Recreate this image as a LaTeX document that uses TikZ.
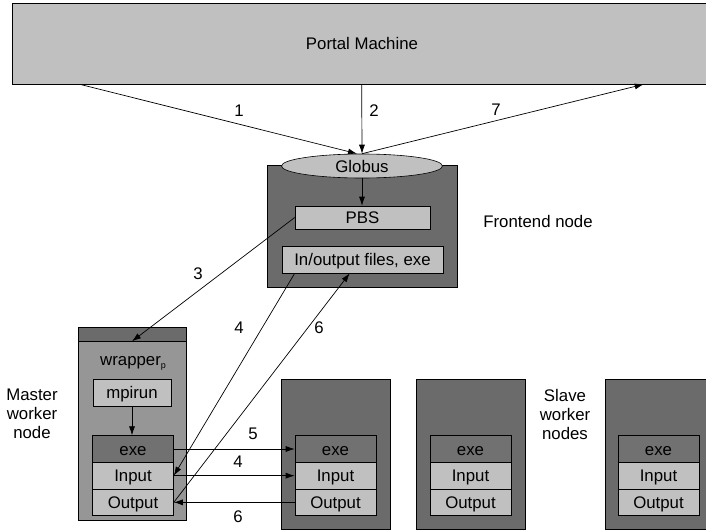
\documentclass[tikz,border=0pt]{standalone}
\usepackage{fontspec}
\setmainfont{Liberation Sans}
\usetikzlibrary{arrows.meta,shapes.geometric}
\definecolor{portalfill}{HTML}{C0C0C0}
\definecolor{hostfill}{HTML}{6B6B6B}
\definecolor{masterfill}{HTML}{969696}
\definecolor{exefill}{HTML}{717171}
\definecolor{filefill}{HTML}{C0C0C0}
\begin{document}
\begin{tikzpicture}[x=1pt,y=-1pt,
  every node/.style={font=\fontsize{16.8}{19}\selectfont, inner sep=0pt},
  lbl/.style={text height=12pt, text depth=0pt},
  box/.style={draw=black, line width=0.6pt, lbl},
  host/.style={box, fill=hostfill, minimum width=109, minimum height=150},
  exebox/.style={box, fill=exefill, minimum width=81, minimum height=26.67},
  filebox/.style={box, fill=filefill, minimum width=81, minimum height=26.67},
  arr/.style={-{Latex[length=9pt,width=6pt]}, line width=0.7pt}]
\useasboundingbox (0,0) rectangle (706,532);

% portal machine
\node[box, fill=portalfill, minimum width=700, minimum height=81] (portal) at (362,43.5) {Portal Machine};

% frontend node
\node[box, fill=hostfill, minimum width=190, minimum height=122] (fe) at (362,226) {};
\node[box, ellipse, fill=portalfill, minimum width=161, minimum height=24] (glob) at (362,166) {Globus};
\node[box, fill=filefill, minimum width=135, minimum height=23] (pbs) at (362.5,217.5) {PBS};
\node[box, fill=filefill, minimum width=161, minimum height=27] (io) at (362.5,259.5) {In/output files, exe};
\node[lbl] (fetext) at (538,221) {Frontend node};

% master worker node
\node[box, fill=masterfill, minimum width=108, minimum height=193] (master) at (132,423.5) {};
\node[box, fill=hostfill, minimum width=108, minimum height=14] (mband) at (132,334) {};
\node[lbl, anchor=base west] (wrap) at (100,365) {wrapper\raisebox{-3pt}{\fontsize{9}{9}\selectfont p}};
\node[box, fill=filefill, minimum width=78, minimum height=27] (mpi) at (132,392.5) {mpirun};
\node[exebox] (mexe) at (133,449) {exe};
\node[filebox] (min) at (133,475.67) {Input};
\node[filebox] (mout) at (133,502.33) {Output};
\node[align=center] (mtext) at (32,414) {Master\\worker\\node};

% slave worker nodes
\node[host] (s1) at (335.5,454) {};
\node[host] (s2) at (470.5,454) {};
\node[host] (s3) at (659.5,454) {};
\foreach \n/\cx in {a/335.5,b/470.5,c/658.5}{
  \node[exebox] (\n exe) at (\cx,449) {exe};
  \node[filebox] (\n in) at (\cx,475.67) {Input};
  \node[filebox] (\n out) at (\cx,502.33) {Output};
}
\node[align=center] (stext) at (565,414) {Slave\\worker\\nodes};

% connectors
\draw[arr] ([xshift=68pt]portal.south west) -- ([xshift=-5pt]glob.north);
\draw[arr] ([xshift=350pt]portal.south west) -- (glob.north);
\draw[arr] (glob.north) -- ([xshift=632pt]portal.south west);
\draw[arr] (glob.south) -- (glob.south |- pbs.north);
\draw[arr] (pbs.west) -- (mband.south);
\draw[arr] (mpi.south) -- (mpi.south |- mexe.north);
\draw[arr] ([xshift=13pt]io.south west) -- (min.east);
\draw[arr] (mout.east) -- ([xshift=68pt]io.south west);
\draw[arr] (mexe.east) -- (aexe.west);
\draw[arr] (min.east) -- (ain.west);
\draw[arr] (aout.west) -- (mout.east);

% step numbers
\node[lbl] (n1) at (239,111) {1};
\node[lbl] (n2) at (374,111) {2};
\node[lbl] (n7) at (496,110) {7};
\node[lbl] (n3) at (198,273) {3};
\node[lbl] (n4a) at (239,327) {4};
\node[lbl] (n6a) at (319,327) {6};
\node[lbl] (n5) at (253,433) {5};
\node[lbl] (n4b) at (238,461) {4};
\node[lbl] (n6b) at (238,516) {6};
\end{tikzpicture}
\end{document}
